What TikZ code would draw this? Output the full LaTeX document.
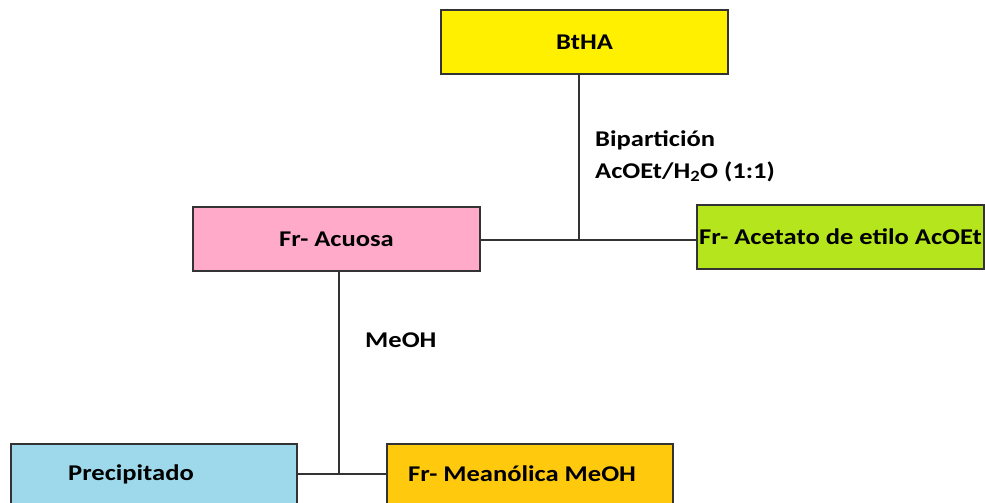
\documentclass[tikz,border=0pt]{standalone}
\usepackage{fontspec}
\setmainfont{Carlito}[FakeStretch=1.18]
\definecolor{bthayellow}{HTML}{FFF000}
\definecolor{acuosapink}{HTML}{FFAAC8}
\definecolor{acetatogreen}{HTML}{B5E61D}
\definecolor{precblue}{HTML}{9DD9EA}
\definecolor{meohorange}{HTML}{FFC90E}
\definecolor{edgegray}{HTML}{333333}
\tikzset{
  box/.style={draw=edgegray, line width=1.5pt, minimum width=287pt, minimum height=64pt,
    inner sep=0pt, font=\fontsize{22.5}{26}\selectfont\bfseries, text=black},
  lbl/.style={inner sep=0pt, font=\fontsize{22.5}{32}\selectfont\bfseries, text=black},
  link/.style={draw=edgegray, line width=1.5pt}
}
\begin{document}
\begin{tikzpicture}[x=1pt, y=-1pt]
  \useasboundingbox (0,0) rectangle (985,503);
  \clip (0,0) rectangle (985,503);
  % boxes
  \node[box, fill=bthayellow] (btha) at (584.5,42) {BtHA};
  \node[box, fill=acuosapink] (acuosa) at (336.5,239) {Fr- Acuosa};
  \node[box, fill=acetatogreen] (acoet) at (840.5,237) {Fr- Acetato de etilo AcOEt};
  \node[box, fill=precblue, minimum width=286pt] (prec) at (154,476) {};
  \node[box, fill=meohorange, minimum width=286pt] (meoh) at (530,476) {};
  \node[lbl, anchor=west] (prectext) at (68,474) {Precipitado};
  \node[lbl, anchor=west] (meohtext) at (408,474) {Fr- Meanólica MeOH};
  % junctions
  \coordinate (j1) at (579,240);
  \coordinate (j2) at (339,474);
  % connectors
  \draw[link] (btha.south -| j1) -- (j1);
  \draw[link] (acuosa.east |- j1) -- (acoet.west |- j1);
  \draw[link] (acuosa.south -| j2) -- (j2);
  \draw[link] (prec.east |- j2) -- (meoh.west |- j2);
  % labels
  \node[lbl, anchor=west, align=left] (bip) at (595,156) {Bipartición\\AcOEt/H\textsubscript{2}O (1:1)};
  \node[lbl, anchor=west] (meohlbl) at (365,340) {MeOH};
\end{tikzpicture}
\end{document}
